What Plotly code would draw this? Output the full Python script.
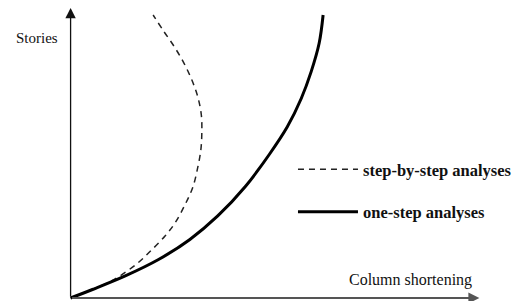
import plotly.graph_objects as go

# Data (arbitrary units: shortening vs. stories)
one_step_x = [0, 0.55, 1.375, 2.2, 3.0, 3.7, 4.4, 5.0, 5.45, 5.8, 6.05, 6.25, 6.35]
one_step_y = [0, 0.30, 0.78, 1.35, 2.07, 2.9, 3.95, 5.08, 6.05, 7.05, 8.0, 9.0, 10]

step_x = [0, 0.45, 0.95, 1.275, 1.7, 2.025, 2.375, 2.625, 2.875, 3.075, 3.2, 3.275, 3.3,
          3.2875, 3.2, 3.05, 2.85, 2.6125, 2.3375, 2.075]
step_y = [0, 0.25, 0.55, 0.81, 1.25, 1.68, 2.19, 2.65, 3.29, 3.92, 4.63, 5.23, 5.83,
          6.47, 7.10, 7.70, 8.30, 8.87, 9.435, 10]

x_axis_end = 10.28
y_axis_end = 10.25

labels = {"x": "Column shortening", "y": "Stories",
          "dash": "step-by-step analyses", "solid": "one-step analyses"}

FONT = "Liberation Serif, Times New Roman, serif"

fig = go.Figure()
fig.add_trace(go.Scatter(
    x=step_x, y=step_y, mode="lines", name=labels["dash"], legendgroup="a",
    line=dict(color="#222", width=1.5, dash="6px,5px", shape="spline", smoothing=1),
))
fig.add_trace(go.Scatter(
    x=one_step_x, y=one_step_y, mode="lines", name=labels["solid"], legendgroup="b",
    line=dict(color="#000", width=3, shape="spline", smoothing=1),
))

# axes with arrows
fig.add_annotation(x=0, y=y_axis_end, ax=0, ay=0, xref="x", yref="y", axref="x", ayref="y",
                   text="", showarrow=True, arrowhead=2, arrowsize=1.6, arrowwidth=1.3,
                   arrowcolor="#111")
fig.add_annotation(x=x_axis_end, y=0, ax=0, ay=0, xref="x", yref="y", axref="x", ayref="y",
                   text="", showarrow=True, arrowhead=2, arrowsize=1.1, arrowwidth=2,
                   arrowcolor="#555")

fig.add_annotation(x=-0.85, y=9.2, xref="x", yref="y", text=labels["y"], showarrow=False,
                   font=dict(family=FONT, size=15, color="#111"))
fig.add_annotation(x=8.55, y=0.62, xref="x", yref="y", text=labels["x"], showarrow=False,
                   font=dict(family=FONT, size=16, color="#111"))

fig.update_layout(
    width=517, height=301,
    margin=dict(l=0, r=0, t=0, b=0),
    paper_bgcolor="white", plot_bgcolor="white",
    xaxis=dict(range=[-1.775, 11.15], visible=False, fixedrange=True),
    yaxis=dict(range=[-0.106, 10.53], visible=False, fixedrange=True),
    showlegend=True,
    legend=dict(x=0.57, y=0.495, xanchor="left", yanchor="top",
                font=dict(family=FONT, size=16.5, color="#111", weight="bold"),
                itemwidth=60, tracegroupgap=18, traceorder="grouped",
                bgcolor="rgba(0,0,0,0)"),
)

fig.write_html("out.html", config={"displayModeBar": False},
               post_script="document.body.style.margin='0';")
